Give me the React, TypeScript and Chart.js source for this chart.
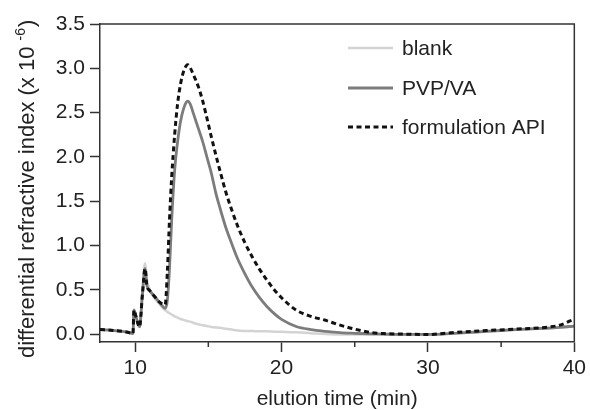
import React, { useEffect, useRef } from "react";
import { Chart, registerables } from "chart.js";

Chart.register(...registerables);

const elutionTime = [
  7.6, 8.5, 9.5, 9.85, 9.92, 10.05, 10.3, 10.5, 10.68, 10.8, 11.0, 11.3, 11.6, 11.85,
  12.05, 12.2, 12.35, 12.5, 12.7, 12.9, 13.1, 13.3, 13.5, 13.6, 13.75, 14.0, 14.3, 14.6,
  14.9, 15.2, 15.5, 15.8, 16.2, 16.6, 17.0, 17.5, 18.0, 18.5, 19.0, 19.5, 20.0, 21.0,
  22.0, 23.0, 24.0, 25.0, 26.0, 27.0, 28.0, 30.0, 32.0, 34.0, 36.0, 38.0, 39.0, 40.0,
];

const blank = [
  0.05, 0.04, 0.02, 0.005, 0.28, 0.21, 0.09, 0.5, 0.8, 0.62, 0.5, 0.41, 0.35, 0.3,
  0.27, 0.25, 0.235, 0.22, 0.2, 0.185, 0.17, 0.16, 0.15, 0.145, 0.14, 0.125, 0.11, 0.1,
  0.09, 0.08, 0.075, 0.07, 0.06, 0.05, 0.04, 0.035, 0.033, 0.03, 0.03, 0.027, 0.025, 0.02,
  0.01, 0.0, -0.005, -0.005, -0.005, -0.005, -0.005, -0.005, 0.01, 0.03, 0.05, 0.065, 0.075, 0.085,
];

const pvpVa = [
  0.05, 0.04, 0.02, 0.005, 0.27, 0.2, 0.08, 0.45, 0.74, 0.55, 0.49, 0.43, 0.37, 0.32,
  0.29, 0.38, 0.75, 1.3, 1.85, 2.17, 2.4, 2.54, 2.62, 2.63, 2.6, 2.48, 2.33, 2.18,
  2.0, 1.82, 1.6, 1.42, 1.2, 1.02, 0.85, 0.68, 0.53, 0.41, 0.31, 0.23, 0.165, 0.085,
  0.05, 0.03, 0.015, 0.008, 0.003, 0.0, -0.005, -0.005, 0.01, 0.03, 0.05, 0.065, 0.075, 0.09,
];

const formulationApi = [
  0.05, 0.04, 0.02, 0.005, 0.27, 0.2, 0.08, 0.45, 0.74, 0.55, 0.49, 0.43, 0.37, 0.34,
  0.33, 0.7, 1.3, 1.78, 2.25, 2.6, 2.82, 2.96, 3.03, 3.04, 3.01, 2.92, 2.8, 2.64,
  2.44, 2.23, 2.03, 1.84, 1.6, 1.4, 1.22, 1.03, 0.87, 0.73, 0.61, 0.5, 0.41, 0.27,
  0.2, 0.155, 0.1, 0.055, 0.02, 0.005, 0.0, -0.005, 0.02, 0.04, 0.055, 0.075, 0.1, 0.17,
];

const seriesNames = ["blank", "PVP/VA", "formulation API"];
const xTicks = [10, 15, 20, 25, 30, 35, 40];
const xTickLabels = ["10", "", "20", "", "30", "", "40"];
const yTicks = [0, 0.5, 1.0, 1.5, 2.0, 2.5, 3.0, 3.5];
const yTickLabels = ["0.0", "0.5", "1.0", "1.5", "2.0", "2.5", "3.0", "3.5"];
const xTitle = "elution time (min)";
const yTitleMain = "differential refractive index (x 10 ";
const yTitleSup = "-6";
const yTitleEnd = ")";

const FONT = '"Liberation Sans", Arial, Helvetica, sans-serif';
const AXIS = "#333333";
const TEXT = "#222222";

const styles = [
  { color: "#d3d3d3", width: 2.5, dash: [] as number[] },
  { color: "#7c7c7c", width: 2.8, dash: [] as number[] },
  { color: "#111111", width: 3, dash: [5, 3.5] },
];

const decorPlugin = {
  id: "decor",
  afterDraw(chart: any) {
    const ctx = chart.ctx as CanvasRenderingContext2D;
    const a = chart.chartArea;
    const xs = chart.scales.x;
    ctx.save();
    // top and right frame
    ctx.strokeStyle = AXIS;
    ctx.lineWidth = 1.5;
    ctx.setLineDash([]);
    ctx.beginPath();
    ctx.moveTo(a.left, a.top);
    ctx.lineTo(a.right, a.top);
    ctx.lineTo(a.right, a.bottom);
    ctx.stroke();
    // minor x ticks
    ctx.lineWidth = 1.5;
    xTicks.forEach((v, i) => {
      if (xTickLabels[i] === "") {
        const px = xs.getPixelForValue(v);
        ctx.beginPath();
        ctx.moveTo(px, a.bottom);
        ctx.lineTo(px, a.bottom + 5);
        ctx.stroke();
      }
    });
    // legend
    const rows = [48, 88, 127];
    ctx.font = `21px ${FONT}`;
    ctx.textAlign = "left";
    ctx.textBaseline = "middle";
    seriesNames.forEach((name, i) => {
      const st = styles[i];
      ctx.strokeStyle = st.color;
      ctx.lineWidth = st.width;
      ctx.setLineDash(st.dash);
      ctx.beginPath();
      ctx.moveTo(348, rows[i]);
      ctx.lineTo(393, rows[i]);
      ctx.stroke();
      ctx.setLineDash([]);
      ctx.fillStyle = TEXT;
      ctx.fillText(name, 402, rows[i] + 1);
    });
    // x title
    ctx.fillStyle = TEXT;
    ctx.textAlign = "center";
    ctx.textBaseline = "alphabetic";
    ctx.font = `21px ${FONT}`;
    ctx.fillText(xTitle, (a.left + a.right) / 2, 405);
    // y title with superscript
    ctx.translate(34, 358);
    ctx.rotate(-Math.PI / 2);
    ctx.textAlign = "left";
    ctx.font = `22px ${FONT}`;
    ctx.fillText(yTitleMain, 0, 0);
    let w = ctx.measureText(yTitleMain).width;
    ctx.font = `14px ${FONT}`;
    ctx.fillText(yTitleSup, w, -9);
    w += ctx.measureText(yTitleSup).width + 1;
    ctx.font = `22px ${FONT}`;
    ctx.fillText(yTitleEnd, w, 0);
    ctx.restore();
  },
};

export default function App() {
  const ref = useRef<HTMLCanvasElement | null>(null);

  useEffect(() => {
    if (!ref.current) return;
    const series = [blank, pvpVa, formulationApi];
    const orders = [2, 1, 0];
    const chart = new Chart(ref.current, {
      type: "line",
      data: {
        datasets: series.map((vals, i) => ({
          label: seriesNames[i],
          data: elutionTime.map((t, j) => ({ x: t, y: vals[j] })),
          borderColor: styles[i].color,
          borderWidth: styles[i].width,
          borderDash: styles[i].dash,
          pointRadius: 0,
          fill: false,
          cubicInterpolationMode: "monotone" as const,
          order: orders[i],
        })),
      },
      options: {
        animation: false,
        responsive: false,
        layout: { padding: { left: 0, right: 13, top: 24, bottom: 0 } },
        plugins: { legend: { display: false }, tooltip: { enabled: false } },
        scales: {
          x: {
            type: "linear",
            min: 7.6,
            max: 40,
            afterFit: (s: any) => {
              s.height = 68;
            },
            afterBuildTicks: (s: any) => {
              s.ticks = xTicks.map((v) => ({ value: v }));
            },
            grid: {
              drawOnChartArea: false,
              drawTicks: true,
              tickLength: 10,
              tickWidth: 1.5,
              tickColor: (c: any) =>
                c.tick && xTickLabels[xTicks.indexOf(c.tick.value)] !== "" ? AXIS : "rgba(0,0,0,0)",
            },
            border: { display: true, color: AXIS, width: 1.5 },
            ticks: {
              autoSkip: false,
              maxRotation: 0,
              padding: 4,
              color: TEXT,
              font: { family: FONT, size: 21 },
              callback: (v: any) => xTickLabels[xTicks.indexOf(Number(v))] ?? "",
            },
          },
          y: {
            type: "linear",
            min: -0.09,
            max: 3.5,
            afterFit: (s: any) => {
              s.width = 100;
            },
            afterBuildTicks: (s: any) => {
              s.ticks = yTicks.map((v) => ({ value: v }));
            },
            grid: {
              drawOnChartArea: false,
              drawTicks: true,
              tickLength: 10,
              tickWidth: 1.5,
              tickColor: AXIS,
            },
            border: { display: true, color: AXIS, width: 1.5 },
            ticks: {
              autoSkip: false,
              padding: 5,
              color: TEXT,
              font: { family: FONT, size: 21 },
              callback: (v: any) => yTickLabels[yTicks.indexOf(Number(v))] ?? "",
            },
          },
        },
      },
      plugins: [decorPlugin],
    });
    return () => chart.destroy();
  }, []);

  return (
    <div style={{ position: "fixed", left: 0, top: 0, width: 590, height: 410, background: "#fff" }}>
      <canvas ref={ref} width={590} height={410} style={{ width: 590, height: 410 }} />
    </div>
  );
}
